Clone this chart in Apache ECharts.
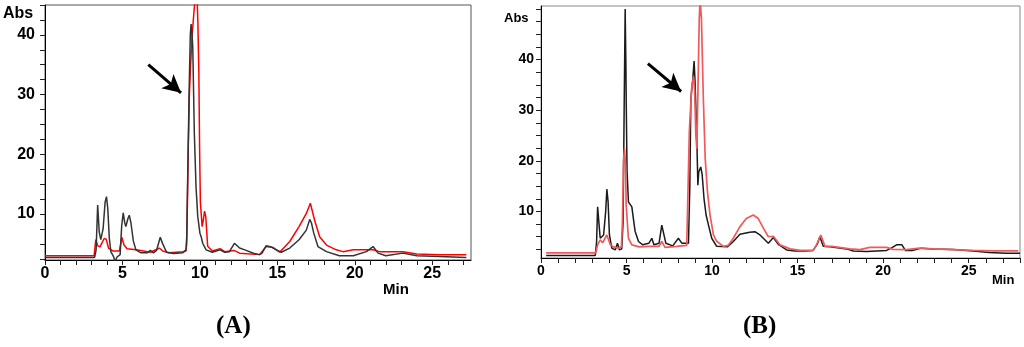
<!DOCTYPE html>
<html>
<head>
<meta charset="utf-8">
<script src="https://cdn.jsdelivr.net/npm/echarts@6/dist/echarts.min.js"></script>
<style>
html,body{margin:0;padding:0;background:#fff;}
#chart{width:1024px;height:347px;}
</style>
</head>
<body>
<div id="chart"></div>
<script>
// ---- Panel A data (time in min, absorbance) ----
var aBlackX = [0,3.2,3.3,3.4,3.5,3.6,3.75,3.88,3.97,4.05,4.15,4.25,4.4,4.53,4.65,4.85,4.95,5.05,5.15,5.22,5.35,5.44,5.55,5.7,5.87,6.2,6.6,6.8,7.0,7.2,7.44,7.6,7.85,8.3,8.9,9.1,9.15,9.2,9.3,9.38,9.43,9.48,9.54,9.64,9.75,9.86,10.0,10.08,10.18,10.4,10.8,11.3,11.6,11.9,12.23,12.56,12.9,13.5,13.85,14.0,14.28,14.6,14.93,15.25,15.8,16.4,16.87,17.09,17.2,17.35,17.62,18.17,19.0,19.9,20.75,21.18,21.5,22.0,23.1,24.0,25.5,27.2];
var aBlackY = [2.7,2.7,4.0,11.5,7.0,5.7,7.5,12.0,12.9,11.0,6.0,3.7,3.0,2.1,2.8,3.2,8.0,10.2,8.5,7.9,9.2,9.8,8.5,5.5,4.0,3.5,3.5,3.9,3.5,3.9,6.1,5.0,3.6,3.4,3.5,4.0,6.2,14.5,30,40,41.8,40.5,37.9,23.5,14.5,9.6,6.8,6.2,5.1,4.0,3.6,4.0,3.6,3.7,5.1,4.3,4.0,3.4,3.2,3.4,4.7,4.5,4.0,3.6,4.3,5.7,7.3,9.1,8.5,6.8,4.55,3.7,3.0,3.0,3.7,4.55,3.45,3.0,3.45,3.0,2.9,2.7];
var aRedX = [0,3.17,3.28,3.4,3.55,3.82,3.95,4.1,4.4,4.8,4.96,5.1,5.3,5.9,6.8,7.38,7.6,8.0,8.9,9.1,9.15,9.25,9.32,9.4,9.5,9.62,9.72,9.8,9.87,9.93,9.98,10.03,10.08,10.14,10.22,10.3,10.38,10.5,10.8,11.3,11.6,12.2,12.56,13.85,14.28,14.71,15.15,15.8,16.4,16.87,17.13,17.4,17.73,18.17,18.8,19.24,19.9,21.18,21.6,23.1,24.0,25.5,27.2];
var aRedY = [3.0,3.0,5.7,4.7,4.5,5.9,5.8,4.3,3.8,3.8,6.1,4.8,4.2,4.0,3.6,4.3,3.8,3.5,3.7,3.8,5.0,21,30,35,40,44,47,48,42,34,21,12,10.2,7.9,9.0,10.5,9.5,4.6,3.8,4.2,3.7,3.9,3.45,3.2,4.55,4.4,3.6,5.4,7.9,10.1,11.8,9.0,6.2,4.8,4.0,3.7,4.0,4.0,3.7,3.7,3.3,3.2,3.2];

// ---- Panel B data ----
var bBlackX = [0.3,3.17,3.25,3.31,3.38,3.46,3.66,3.78,3.85,3.92,4.0,4.14,4.34,4.47,4.59,4.72,4.8,4.86,4.92,4.96,4.98,5.03,5.11,5.31,5.4,5.5,5.7,5.95,6.3,6.48,6.6,6.9,7.06,7.15,7.3,7.7,8.03,8.24,8.62,8.7,8.76,8.87,8.95,9.0,9.1,9.17,9.22,9.34,9.42,9.53,9.65,9.79,9.98,10.27,10.9,11.24,11.63,12.2,12.5,12.8,13.29,13.58,13.87,14.36,14.85,15.43,15.9,16.15,16.3,16.5,16.9,17.86,18.25,19.03,20.2,20.5,20.78,21.1,21.3,21.7,22.24,22.9,24.09,25.25,26.2,27.2,28];
var bBlackY = [1.3,1.3,4,10.9,8,4.7,5.35,10,14.4,12,5.35,2.75,2.4,3.7,2.4,2.6,8,30,50,40,32.2,18,11.9,10.9,8.6,6.1,4.06,3.4,3.7,4.7,3.4,3.7,7.3,7.0,3.7,3.2,4.7,3.7,3.7,15,32.2,36.1,39.7,36,25.7,15.2,17.8,18.8,17.3,12.5,9.3,7.3,4.7,3.1,3.0,4.06,5.5,5.9,6.0,5.35,3.7,4.84,3.5,2.4,2.2,2.2,2.3,3.5,5.0,3.1,3.0,2.6,2.2,2.1,2.3,2.8,3.4,3.4,2.3,2.3,2.75,2.6,2.5,2.2,1.9,1.75,1.75];
var bRedX = [0.3,3.2,3.31,3.46,3.6,3.85,4.05,4.24,4.53,4.7,4.76,4.82,4.88,4.94,4.98,5.11,5.31,5.75,6.3,6.9,7.06,7.25,7.94,8.52,8.67,8.8,8.91,8.98,9.05,9.11,9.18,9.25,9.3,9.38,9.49,9.6,9.73,9.88,10.08,10.27,10.66,10.95,11.24,11.63,12.0,12.41,12.7,13.0,13.29,13.58,13.97,14.56,15.14,15.91,16.1,16.36,16.6,17.0,18.06,18.64,19.22,20.2,20.58,21.36,22.14,22.9,24.1,25.25,26.4,27.9];
var bRedY = [1.8,1.8,3.4,4.4,3.8,5.35,3.4,3.0,2.75,3.0,8,19.7,22.5,19,11.2,4.7,3.4,3.0,3.1,3.1,4.06,2.9,3.1,3.3,25.7,34.1,36.7,34,25,22.4,35,48,52,48,32.2,20.4,13.9,9.3,5.35,4.1,3.1,3.3,4.7,7.0,8.6,9.3,8.6,6.7,5.0,5.1,3.4,2.6,2.3,2.3,3.4,5.35,3.1,3.1,2.6,2.45,2.9,2.9,2.5,2.45,2.75,2.6,2.45,2.3,2.2,2.2];

// tick values
var aXLabels = [0,5,10,15,20,25];
var aYLabels = [10,20,30,40];
var bXLabels = [0,5,10,15,20,25];
var bYLabels = [10,20,30,40];
// arrows (data coordinates: [tail, tip])
var aArrow = [[6.67,35.0],[8.78,30.3]];
var bArrow = [[6.25,39.2],[8.19,33.7]];

function zip(xs, ys){ return xs.map(function(x,i){ return [x, ys[i]]; }); }
function range(a,b,s){ var r=[]; for(var v=a; v<=b+1e-9; v+=s) r.push(Math.round(v*100)/100); return r; }

var chart = echarts.init(document.getElementById('chart'), null, {renderer:'canvas'});
var FONT = 'Liberation Sans';

function xAxisCfg(grid, max, labels, fs){
  return {
    type:'value', gridIndex:grid, min:0, max:max,
    axisLine:{show:true, onZero:false, lineStyle:{color:'#000', width:1}},
    axisTick:{show:true, inside:false, length:5, customValues:range(0,Math.floor(max),1), lineStyle:{color:'#222'}},
    axisLabel:{customValues:labels, margin:6, color:'#000', fontFamily:FONT, fontWeight:'bold', fontSize:fs},
    splitLine:{show:false}
  };
}
function yAxisCfg(grid, min, max, labels, fs, margin){
  return {
    type:'value', gridIndex:grid, min:min, max:max,
    axisLine:{show:true, onZero:false, lineStyle:{color:'#000', width:1}},
    axisTick:{show:true, inside:false, length:5, customValues:range(2.5,Math.floor(max/2.5)*2.5,2.5), lineStyle:{color:'#222'}},
    axisLabel:{customValues:labels, margin:margin, color:'#000', fontFamily:FONT, fontWeight:'bold', fontSize:fs},
    splitLine:{show:false}
  };
}
function arrowLine(arr){
  return {
    silent:true, animation:false, symbol:['none','arrow'], symbolSize:[14,18],
    label:{show:false},
    lineStyle:{color:'#000', width:3, type:'solid'},
    data:[[{coord:arr[0]},{coord:arr[1]}]]
  };
}

var option = {
  animation:false,
  backgroundColor:'#fff',
  grid:[
    {left:45, top:5, width:426, height:255, show:true, borderColor:'#555', borderWidth:1, containLabel:false},
    {left:541, top:6, width:479, height:252, show:true, borderColor:'#888', borderWidth:1, containLabel:false}
  ],
  xAxis:[ xAxisCfg(0, 27.5, aXLabels, 16), xAxisCfg(1, 28, bXLabels, 14) ],
  yAxis:[ yAxisCfg(0, 2.3, 45, aYLabels, 16, 10), yAxisCfg(1, 0.8, 50.6, bYLabels, 14, 7) ],
  series:[
    {type:'line', xAxisIndex:0, yAxisIndex:0, data:zip(aRedX,aRedY), showSymbol:false, clip:true,
     lineStyle:{color:'#ff0000', width:1.5}, itemStyle:{color:'#ff0000'}, z:2},
    {type:'line', xAxisIndex:0, yAxisIndex:0, data:zip(aBlackX,aBlackY), showSymbol:false, clip:true,
     lineStyle:{color:'#333', width:1.5}, itemStyle:{color:'#333'}, z:3, markLine:arrowLine(aArrow)},
    {type:'line', xAxisIndex:1, yAxisIndex:1, data:zip(bBlackX,bBlackY), showSymbol:false, clip:true,
     lineStyle:{color:'#1a1a1a', width:1.5}, itemStyle:{color:'#1a1a1a'}, z:2, markLine:arrowLine(bArrow)},
    {type:'line', xAxisIndex:1, yAxisIndex:1, data:zip(bRedX,bRedY), showSymbol:false, clip:true,
     lineStyle:{color:'#f05a5a', width:1.7}, itemStyle:{color:'#f05a5a'}, z:3}
  ],
  graphic:[
    {type:'text', left:3, top:6, style:{text:'Abs', fontFamily:FONT, fontWeight:'bold', fontSize:16, fill:'#000'}},
    {type:'text', left:383, top:282, style:{text:'Min', fontFamily:FONT, fontWeight:'bold', fontSize:15, fill:'#000'}},
    {type:'text', left:504, top:12, style:{text:'Abs', fontFamily:FONT, fontWeight:'bold', fontSize:13, fill:'#000'}},
    {type:'text', left:992, top:274, style:{text:'Min', fontFamily:FONT, fontWeight:'bold', fontSize:13, fill:'#000'}},
    {type:'text', left:216, top:314, style:{text:'(A)', fontFamily:'Liberation Serif', fontWeight:'bold', fontSize:25, fill:'#000'}},
    {type:'text', left:743, top:314, style:{text:'(B)', fontFamily:'Liberation Serif', fontWeight:'bold', fontSize:25, fill:'#000'}}
  ]
};
chart.setOption(option);
</script>
</body>
</html>
